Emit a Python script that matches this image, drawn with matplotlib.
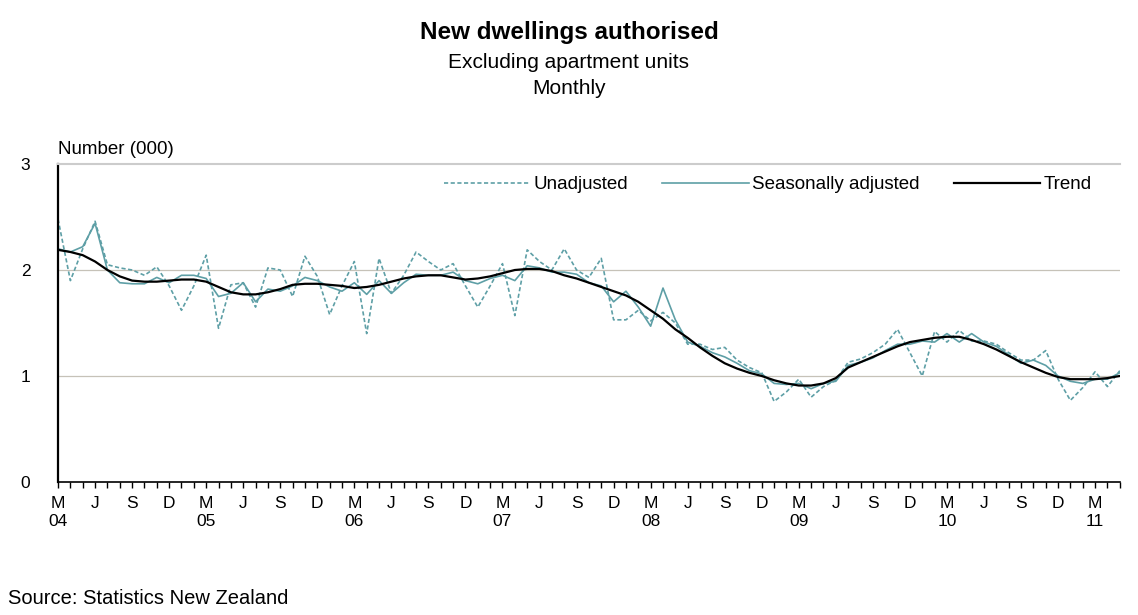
import numpy as np
import matplotlib
matplotlib.use("Agg")
from matplotlib import pyplot as plt

plt.rcParams['font.family'] = ['Liberation Sans', 'DejaVu Sans']

# monthly, Mar 2004 .. May 2011 (thousands)
unadjusted = [2.48, 1.90, 2.20, 2.46, 2.05, 2.02, 2.00, 1.95, 2.03, 1.85,
              1.62, 1.85, 2.14, 1.45, 1.86, 1.88, 1.65, 2.02, 2.00, 1.75,
              2.13, 1.94, 1.58, 1.85, 2.08, 1.40, 2.11, 1.78, 1.95, 2.17,
              2.08, 2.00, 2.06, 1.85, 1.65, 1.85, 2.06, 1.57, 2.19, 2.08,
              2.00, 2.20, 2.00, 1.93, 2.11, 1.53, 1.53, 1.62, 1.52, 1.60,
              1.50, 1.30, 1.30, 1.25, 1.27, 1.15, 1.08, 1.03, 0.76, 0.85,
              0.97, 0.80, 0.90, 0.96, 1.13, 1.16, 1.22, 1.30, 1.44, 1.22,
              1.00, 1.42, 1.32, 1.43, 1.33, 1.33, 1.30, 1.22, 1.15, 1.15,
              1.24, 0.97, 0.77, 0.89, 1.04, 0.90, 1.05]
seas_adj = [2.20, 2.17, 2.22, 2.44, 2.00, 1.88, 1.87, 1.87, 1.93, 1.88,
            1.95, 1.95, 1.92, 1.75, 1.78, 1.88, 1.70, 1.82, 1.80, 1.85,
            1.93, 1.90, 1.84, 1.80, 1.88, 1.77, 1.90, 1.78, 1.88, 1.96,
            1.95, 1.95, 1.98, 1.90, 1.87, 1.92, 1.95, 1.90, 2.04, 2.02,
            1.98, 1.98, 1.96, 1.88, 1.85, 1.70, 1.80, 1.65, 1.47, 1.83,
            1.53, 1.32, 1.28, 1.22, 1.18, 1.12, 1.05, 1.02, 0.93, 0.92,
            0.93, 0.88, 0.93, 0.95, 1.10, 1.13, 1.17, 1.24, 1.30, 1.30,
            1.33, 1.32, 1.40, 1.32, 1.40, 1.32, 1.28, 1.20, 1.12, 1.15,
            1.10, 1.00, 0.95, 0.93, 0.97, 0.97, 1.03]
trend = [2.19, 2.17, 2.14, 2.08, 2.00, 1.94, 1.90, 1.89, 1.89, 1.90,
         1.91, 1.91, 1.89, 1.84, 1.79, 1.77, 1.77, 1.79, 1.82, 1.86,
         1.87, 1.87, 1.86, 1.85, 1.83, 1.84, 1.86, 1.89, 1.92, 1.94,
         1.95, 1.95, 1.93, 1.91, 1.92, 1.94, 1.97, 2.00, 2.01, 2.01,
         1.99, 1.95, 1.92, 1.88, 1.84, 1.80, 1.76, 1.70, 1.62, 1.54,
         1.44, 1.36, 1.27, 1.19, 1.12, 1.07, 1.03, 1.00, 0.96, 0.93,
         0.91, 0.91, 0.93, 0.98, 1.08, 1.13, 1.18, 1.23, 1.28, 1.32,
         1.34, 1.36, 1.37, 1.37, 1.34, 1.30, 1.25, 1.19, 1.13, 1.08,
         1.03, 0.99, 0.97, 0.97, 0.97, 0.98, 1.00]

month_letters = ['M', 'J', 'S', 'D']
years = ['04', '05', '06', '07', '08', '09', '10', '11']

x = np.arange(len(trend))
teal = '#5e9fa6'

fig = plt.figure(figsize=(11.38, 6.15), dpi=100)
ax = fig.add_axes([0.051, 0.2163, 0.933, 0.517])

ax.axhline(1, color='#c6c2b8', lw=0.9, zorder=0)
ax.axhline(2, color='#c6c2b8', lw=0.9, zorder=0)

ax.plot(x, unadjusted, color=teal, lw=1.2, ls=(0, (2.5, 1.5)), label='Unadjusted')
ax.plot(x, seas_adj, color=teal, lw=1.2, label='Seasonally adjusted')
ax.plot(x, trend, color='black', lw=1.6, label='Trend')

ax.set_xlim(0, len(trend) - 1)
ax.set_ylim(0, 3)
ax.set_yticks([0, 1, 2, 3])
ax.set_yticklabels(['0', '1', '2', '3'], fontsize=12.5)

# tick labels every quarter, year under March
major = np.arange(0, len(trend), 3)
labels = []
for k, pos in enumerate(major):
    lab = month_letters[k % 4]
    if k % 4 == 0:
        lab += '\n' + years[k // 4]
    labels.append(lab)
ax.set_xticks(major)
ax.set_xticklabels(labels, fontsize=12.5, linespacing=1.25, va='top')
ax.set_xticks(x, minor=True)
ax.tick_params(axis='x', which='both', direction='out', length=4, width=1, pad=6)
ax.tick_params(axis='y', direction='out', length=0, pad=20)

ax.spines['right'].set_visible(False)
ax.spines['top'].set_color('#cccccc')
ax.spines['top'].set_linewidth(1.5)
ax.spines['left'].set_linewidth(1.6)
ax.spines['bottom'].set_linewidth(1.2)

ax.legend(loc='upper right', bbox_to_anchor=(0.985, 1.0), ncol=3, frameon=False,
          fontsize=13.5, handlelength=4.6, columnspacing=1.8, handletextpad=0.2,
          borderaxespad=0.25)

fig.text(0.5, 1 - 33 / 615, 'New dwellings authorised', ha='center', va='center',
         fontsize=17.5, fontweight='bold')
fig.text(0.5, 1 - 62 / 615, 'Excluding apartment units', ha='center', va='center',
         fontsize=15)
fig.text(0.5, 1 - 88 / 615, 'Monthly', ha='center', va='center', fontsize=15)
fig.text(58 / 1138, 1 - 150 / 615, 'Number (000)', ha='left', va='center', fontsize=13.5)
fig.text(8 / 1138, 1 - 598 / 615, 'Source: Statistics New Zealand', ha='left',
         va='center', fontsize=14.5)

fig.savefig('out.png', dpi=100)
